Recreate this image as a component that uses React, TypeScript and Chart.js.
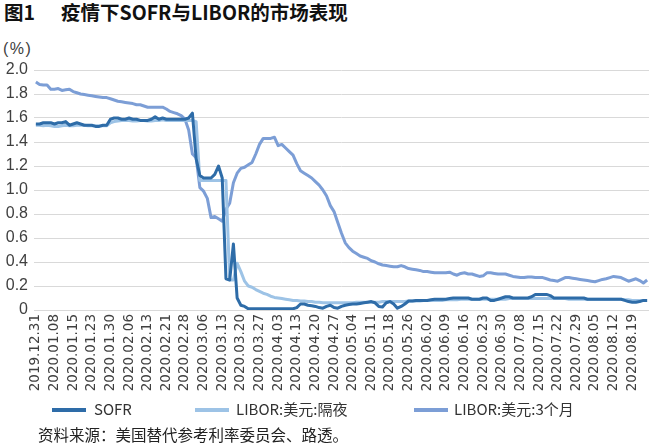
import React, { useEffect, useRef } from 'react';
import { Chart, registerables } from 'chart.js';

Chart.register(...registerables);

const tickLabels = [
  '2019.12.31', '2020.01.08', '2020.01.15', '2020.01.23', '2020.01.30', '2020.02.06',
  '2020.02.13', '2020.02.21', '2020.02.28', '2020.03.06', '2020.03.13', '2020.03.20',
  '2020.03.27', '2020.04.03', '2020.04.13', '2020.04.20', '2020.04.27', '2020.05.04',
  '2020.05.11', '2020.05.18', '2020.05.26', '2020.06.02', '2020.06.09', '2020.06.16',
  '2020.06.23', '2020.06.30', '2020.07.08', '2020.07.15', '2020.07.22', '2020.07.29',
  '2020.08.05', '2020.08.12', '2020.08.19',
];
const tickEvery = 5; // one labelled tick every 5 trading days

const sofr = [
  1.55, 1.55, 1.56, 1.56, 1.56, 1.55, 1.56, 1.56, 1.57, 1.54,
  1.55, 1.56, 1.55, 1.54, 1.54, 1.54, 1.53, 1.53, 1.54, 1.54,
  1.59, 1.60, 1.60, 1.59, 1.59, 1.60, 1.59, 1.59, 1.58, 1.58,
  1.58, 1.59, 1.61, 1.59, 1.60, 1.59, 1.59, 1.59, 1.59, 1.59,
  1.59, 1.60, 1.64, 1.26, 1.12, 1.10, 1.10, 1.10, 1.13, 1.20,
  1.10, 0.26, 0.25, 0.55, 0.10, 0.04, 0.03, 0.01, 0.01, 0.01,
  0.01, 0.01, 0.01, 0.01, 0.01, 0.01, 0.01, 0.01, 0.01, 0.01,
  0.02, 0.05, 0.05, 0.04, 0.035, 0.03, 0.02, 0.015, 0.03, 0.04,
  0.02, 0.015, 0.03, 0.04, 0.045, 0.05, 0.05, 0.055, 0.06, 0.065,
  0.07, 0.06, 0.03, 0.025, 0.06, 0.07, 0.05, 0.015, 0.03, 0.05,
  0.075, 0.075, 0.08, 0.08, 0.08, 0.08, 0.085, 0.09, 0.09, 0.09,
  0.09, 0.095, 0.10, 0.10, 0.10, 0.10, 0.10, 0.09, 0.09, 0.09,
  0.10, 0.10, 0.08, 0.08, 0.09, 0.10, 0.11, 0.11, 0.10, 0.10,
  0.10, 0.10, 0.10, 0.11, 0.13, 0.13, 0.13, 0.13, 0.12, 0.10,
  0.10, 0.10, 0.10, 0.10, 0.10, 0.10, 0.10, 0.10, 0.09, 0.09,
  0.09, 0.09, 0.09, 0.09, 0.09, 0.09, 0.09, 0.09, 0.08, 0.07,
  0.065, 0.065, 0.07, 0.08, 0.08,
];

const liborOvernight = [
  1.54, 1.54, 1.535, 1.54, 1.535, 1.53, 1.53, 1.535, 1.54, 1.535,
  1.535, 1.54, 1.54, 1.54, 1.535, 1.535, 1.535, 1.535, 1.535, 1.535,
  1.56, 1.57, 1.575, 1.58, 1.58, 1.58, 1.575, 1.575, 1.58, 1.58,
  1.575, 1.575, 1.58, 1.58, 1.585, 1.58, 1.58, 1.58, 1.58, 1.58,
  1.58, 1.58, 1.58, 1.57, 1.08, 1.08, 1.08, 1.08, 1.08, 1.08,
  1.08, 1.08, 0.25, 0.25, 0.39, 0.32, 0.24, 0.20, 0.19, 0.17,
  0.155, 0.14, 0.13, 0.115, 0.105, 0.10, 0.095, 0.09, 0.085, 0.08,
  0.08, 0.075, 0.075, 0.07, 0.07, 0.065, 0.065, 0.06, 0.06, 0.06,
  0.06, 0.06, 0.06, 0.06, 0.06, 0.06, 0.065, 0.065, 0.065, 0.065,
  0.065, 0.065, 0.065, 0.07, 0.07, 0.07, 0.07, 0.07, 0.07, 0.07,
  0.075, 0.075, 0.075, 0.075, 0.08, 0.08, 0.08, 0.08, 0.08, 0.08,
  0.085, 0.085, 0.085, 0.085, 0.09, 0.09, 0.09, 0.09, 0.09, 0.09,
  0.09, 0.09, 0.09, 0.09, 0.09, 0.09, 0.09, 0.095, 0.095, 0.095,
  0.095, 0.095, 0.095, 0.095, 0.095, 0.095, 0.095, 0.095, 0.095, 0.095,
  0.095, 0.095, 0.095, 0.09, 0.09, 0.09, 0.09, 0.09, 0.09, 0.09,
  0.09, 0.09, 0.09, 0.09, 0.09, 0.09, 0.09, 0.09, 0.085, 0.085,
  0.08, 0.08, 0.08, 0.08, 0.08,
];

const libor3m = [
  1.90, 1.88, 1.875, 1.875, 1.84, 1.84, 1.845, 1.83, 1.835, 1.84,
  1.82, 1.81, 1.80, 1.795, 1.79, 1.785, 1.78, 1.775, 1.77, 1.77,
  1.76, 1.75, 1.74, 1.735, 1.73, 1.725, 1.72, 1.71, 1.71, 1.70,
  1.69, 1.69, 1.69, 1.69, 1.69, 1.675, 1.655, 1.645, 1.635, 1.62,
  1.59, 1.50, 1.30, 1.27, 1.02, 0.99, 0.93, 0.77, 0.78, 0.76,
  0.74, 0.84, 0.89, 1.06, 1.14, 1.18, 1.19, 1.21, 1.23, 1.30,
  1.38, 1.43, 1.43, 1.43, 1.44, 1.37, 1.38, 1.35, 1.32, 1.29,
  1.22, 1.16, 1.14, 1.12, 1.10, 1.07, 1.04, 1.00, 0.95, 0.87,
  0.82, 0.73, 0.64, 0.56, 0.52, 0.49, 0.47, 0.45, 0.44, 0.43,
  0.41, 0.40, 0.385, 0.375, 0.37, 0.365, 0.36, 0.36, 0.37, 0.36,
  0.345, 0.34, 0.335, 0.33, 0.32, 0.32, 0.315, 0.31, 0.31, 0.31,
  0.31, 0.315, 0.30, 0.29, 0.305, 0.31, 0.30, 0.30, 0.29, 0.28,
  0.285, 0.31, 0.31, 0.305, 0.30, 0.30, 0.30, 0.29, 0.28, 0.275,
  0.27, 0.27, 0.275, 0.275, 0.27, 0.27, 0.27, 0.26, 0.25, 0.245,
  0.24, 0.255, 0.27, 0.27, 0.265, 0.26, 0.255, 0.25, 0.245, 0.24,
  0.235, 0.245, 0.255, 0.26, 0.27, 0.28, 0.275, 0.27, 0.255, 0.24,
  0.25, 0.26, 0.245, 0.225, 0.25,
];

const seriesNames = ['SOFR', 'LIBOR:美元:隔夜', 'LIBOR:美元:3个月'];
const seriesColors = ['#2e6ca8', '#9dc3e6', '#7c9ed6'];
const seriesValues = [sofr, liborOvernight, libor3m];

const titleNo = '图1';
const titleText = '疫情下SOFR与LIBOR的市场表现';
const unitText = '(%)';
const sourceText = '资料来源：美国替代参考利率委员会、路透。';

const legendPos = [
  { line: 52, text: 94 },
  { line: 195, text: 236 },
  { line: 414, text: 454 },
];

export default function App() {
  const ref = useRef<HTMLCanvasElement | null>(null);

  useEffect(() => {
    if (!ref.current) return;
    const n = sofr.length;
    const chart = new Chart(ref.current, {
      type: 'line',
      data: {
        datasets: seriesValues.map((vals, k) => ({
          label: seriesNames[k],
          data: vals.map((y, i) => ({ x: i, y })),
          borderColor: seriesColors[k],
          backgroundColor: seriesColors[k],
          borderWidth: 3,
          pointRadius: 0,
          tension: 0,
          borderJoinStyle: 'round' as const,
        })),
      },
      options: {
        animation: false,
        responsive: false,
        devicePixelRatio: 1,
        layout: { padding: { top: 70, right: 7, left: 0, bottom: 0 } },
        plugins: {
          legend: { display: false },
          tooltip: { enabled: false },
        },
        scales: {
          x: {
            type: 'linear',
            min: -0.5,
            max: n - 0.5,
            afterBuildTicks: (scale: any) => {
              scale.ticks = tickLabels.map((_, i) => ({ value: i * tickEvery }));
            },
            afterFit: (scale: any) => {
              scale.height = 90;
            },
            grid: { display: false, drawTicks: false },
            border: { display: false },
            ticks: {
              autoSkip: false,
              minRotation: 90,
              maxRotation: 90,
              padding: 4,
              color: '#404040',
              font: { family: 'DejaVu Sans', size: 13.5 },
              callback: (v: any) => tickLabels[Math.round(Number(v) / tickEvery)] ?? '',
            },
          },
          y: {
            min: 0,
            max: 2,
            afterFit: (scale: any) => {
              scale.width = 34;
            },
            grid: { color: '#d9d9d9', lineWidth: 1, drawTicks: false },
            border: { display: false },
            ticks: {
              stepSize: 0.2,
              padding: 6,
              color: '#404040',
              font: { family: 'Liberation Sans', size: 16 },
              callback: (v: any) => (Number(v) === 0 ? '0' : Number(v).toFixed(1)),
            },
          },
        },
      },
    });
    return () => chart.destroy();
  }, []);

  return (
    <div
      style={{
        position: 'absolute',
        left: 0,
        top: 0,
        width: 656,
        height: 447,
        background: '#fff',
        overflow: 'hidden',
        fontFamily: '"Noto Sans CJK SC", sans-serif',
      }}
    >
      <div
        style={{
          position: 'absolute',
          left: 4,
          top: 0,
          fontSize: 19.5,
          lineHeight: '24px',
          fontWeight: 'bold',
          color: '#111',
          whiteSpace: 'nowrap',
        }}
      >
        <span>{titleNo}</span>
        <span style={{ marginLeft: 26 }}>{titleText}</span>
      </div>
      <div
        style={{
          position: 'absolute',
          left: 3,
          top: 39,
          fontFamily: '"Liberation Sans", sans-serif',
          fontSize: 16,
          lineHeight: '20px',
          letterSpacing: 1.5,
          color: '#404040',
        }}
      >
        {unitText}
      </div>
      <canvas
        ref={ref}
        width={656}
        height={400}
        style={{ position: 'absolute', left: 0, top: 0, width: 656, height: 400 }}
      />
      {seriesNames.map((name, k) => (
        <React.Fragment key={name}>
          <div
            style={{
              position: 'absolute',
              left: legendPos[k].line,
              top: 408,
              width: 34,
              height: 4,
              background: seriesColors[k],
            }}
          />
          <div
            style={{
              position: 'absolute',
              left: legendPos[k].text,
              top: 399,
              fontSize: 15,
              lineHeight: '20px',
              color: '#333',
              whiteSpace: 'nowrap',
            }}
          >
            {name}
          </div>
        </React.Fragment>
      ))}
      <div
        style={{
          position: 'absolute',
          left: 38,
          top: 424,
          fontSize: 15.5,
          lineHeight: '20px',
          color: '#222',
          whiteSpace: 'nowrap',
        }}
      >
        {sourceText}
      </div>
    </div>
  );
}
